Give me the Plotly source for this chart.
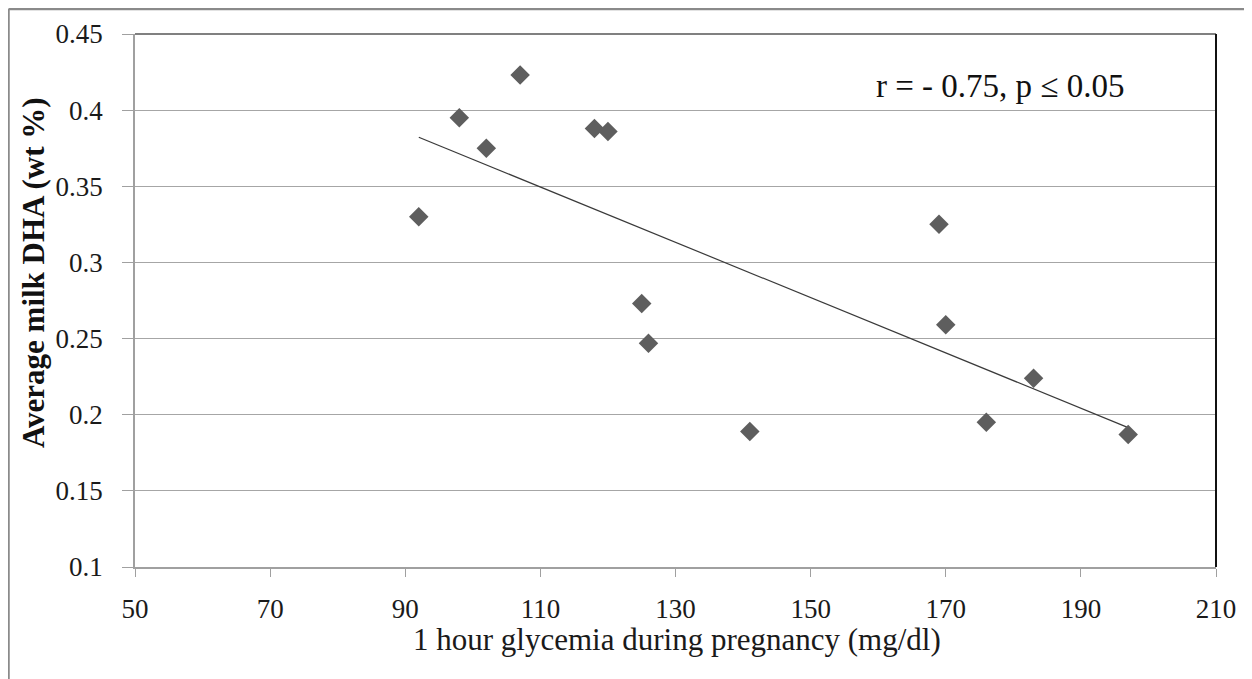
import numpy as np
import plotly.graph_objects as go

# Data
glycemia = [92, 98, 102, 107, 118, 120, 125, 126, 141, 169, 170, 176, 183, 197]
milk_dha = [0.330, 0.395, 0.375, 0.423, 0.388, 0.386, 0.273, 0.247, 0.189,
            0.325, 0.259, 0.195, 0.224, 0.187]

x_ticks = [50, 70, 90, 110, 130, 150, 170, 190, 210]
y_ticks = [0.1, 0.15, 0.2, 0.25, 0.3, 0.35, 0.4, 0.45]
y_tick_text = ["0.1", "0.15", "0.2", "0.25", "0.3", "0.35", "0.4", "0.45"]

x_title = "1 hour glycemia during pregnancy (mg/dl)"
y_title = "Average milk DHA (wt %)"
stat_text = "r = - 0.75, p \u2264 0.05"

# Linear trend line (least squares, as in a spreadsheet trendline)
slope, intercept = np.polyfit(glycemia, milk_dha, 1)
trend_x = [min(glycemia), max(glycemia)]
trend_y = [slope * v + intercept for v in trend_x]

FONT = "Times New Roman, Liberation Serif, serif"

fig = go.Figure()
fig.add_trace(go.Scatter(
    x=trend_x, y=trend_y, mode="lines",
    line=dict(color="#3a3a3a", width=1.2),
    hoverinfo="skip", showlegend=False,
))
fig.add_trace(go.Scatter(
    x=glycemia, y=milk_dha, mode="markers",
    marker=dict(symbol="diamond", size=15, color="#5e5e5e",
                line=dict(width=0)),
    showlegend=False,
))

# page has an 8px body margin, so the figure is 8px smaller than the window
W, H = 1244, 671
OFF = 8
PL, PR, PT, PB = 135 - OFF, 1216 - OFF, 33.5 - OFF, 567.5 - OFF
L, R, T, B = PL, W - PR, PT, H - PB
PW, PH = PR - PL, PB - PT


def px(xp):
    return (xp - OFF - PL) / PW


def py(yp):
    return (PB - (yp - OFF)) / PH


fig.update_layout(
    template="none",
    width=W, height=H,
    margin=dict(l=L, r=R, t=T, b=B, pad=0),
    paper_bgcolor="white", plot_bgcolor="white",
    font=dict(family=FONT, color="#1a1a1a"),
    showlegend=False,
    xaxis=dict(
        range=[50, 210], tickmode="array", tickvals=x_ticks,
        showgrid=False, zeroline=False,
        showline=True, linecolor="#a0a0a0", linewidth=1.5,
        ticks="outside", ticklen=8, tickcolor="#a0a0a0", tickwidth=1,
        ticklabelstandoff=9,
        tickfont=dict(family=FONT, size=27, color="#1a1a1a"),
        title=None,
    ),
    yaxis=dict(
        range=[0.1, 0.45], tickmode="array", tickvals=y_ticks, ticktext=y_tick_text,
        showgrid=True, gridcolor="#a6a6a6", gridwidth=1,
        zeroline=False,
        showline=True, linecolor="#a0a0a0", linewidth=1.5,
        ticks="outside", ticklen=11, tickcolor="#a0a0a0", tickwidth=1,
        ticklabelstandoff=14,
        tickfont=dict(family=FONT, size=27, color="#1a1a1a"),
        title=None,
    ),
    annotations=[
        dict(text=stat_text, xref="paper", yref="paper",
             x=px(1000), y=py(86),
             xanchor="center", yanchor="middle", showarrow=False,
             font=dict(family=FONT, size=33, color="#111111")),
        dict(text="<b>" + y_title + "</b>", xref="paper", yref="paper",
             x=px(33), y=py(273),
             xanchor="center", yanchor="middle", textangle=-90, showarrow=False,
             font=dict(family=FONT, size=31, color="#111111")),
        dict(text=x_title, xref="paper", yref="paper",
             x=px(677), y=py(640),
             xanchor="center", yanchor="middle", showarrow=False,
             font=dict(family=FONT, size=31, color="#1a1a1a")),
    ],
    shapes=[
        # top and right border of the plot area
        dict(type="line", xref="paper", yref="paper", x0=0, x1=1, y0=1, y1=1,
             line=dict(color="#808080", width=2)),
        dict(type="line", xref="paper", yref="paper", x0=1, x1=1, y0=0, y1=1,
             line=dict(color="#111111", width=2)),
        # outer chart frame (left and top)
        dict(type="line", xref="paper", yref="paper",
             x0=px(8.5), x1=px(8.5), y0=py(8.5), y1=py(700),
             line=dict(color="#8a8a8a", width=2.5)),
        dict(type="line", xref="paper", yref="paper",
             x0=px(8.5), x1=px(1270), y0=py(8.5), y1=py(8.5),
             line=dict(color="#8a8a8a", width=2.5)),
    ],
)

fig.write_html("out.html")
